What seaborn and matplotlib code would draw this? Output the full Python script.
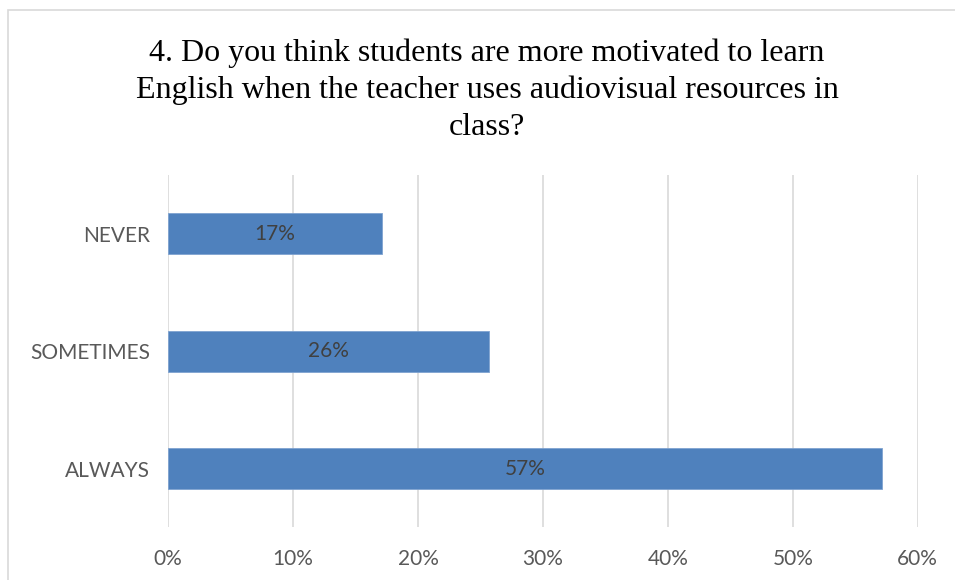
import matplotlib
matplotlib.use("Agg")
import matplotlib.pyplot as plt
import seaborn as sns
import pandas as pd
from matplotlib.patches import Rectangle

categories = ["NEVER", "SOMETIMES", "ALWAYS"]
values = [17.14, 25.71, 57.14]
xticks = [0, 10, 20, 30, 40, 50, 60]
title = ("4. Do you think students are more motivated to learn\n"
         "English when the teacher uses audiovisual resources in\n"
         "class?")

sns.set_theme(style="white")
plt.rcParams["font.family"] = ["Lato", "DejaVu Sans"]

df = pd.DataFrame({"category": categories, "value": values})

fig = plt.figure(figsize=(9.55, 5.8), dpi=100)
ax = fig.add_axes([0.176, 0.091, 0.785, 0.607])

sns.barplot(data=df, x="value", y="category", orient="h", color="#4F81BD",
            saturation=1, width=0.35, edgecolor="#7FA3D0", linewidth=0.6, ax=ax)

for bar, v in zip(ax.patches, values):
    ax.text(bar.get_x() + bar.get_width() / 2, bar.get_y() + bar.get_height() / 2,
            f"{round(v)}%", ha="center", va="center", fontsize=15, color="#404040")

ax.set_xlim(0, 60)
ax.set_ylim(2.5, -0.5)
ax.set_xticks(xticks)
ax.set_xticklabels([f"{t}%" for t in xticks])
ax.tick_params(axis="both", length=0, labelsize=15, labelcolor="#595959")
ax.tick_params(axis="x", pad=16)
ax.tick_params(axis="y", pad=13)
ax.set_xlabel("")
ax.set_ylabel("")
ax.grid(axis="x", color="#D9D9D9", linewidth=1.2)
ax.set_axisbelow(True)
for s in ax.spines.values():
    s.set_visible(False)

fig.text(0.51, 0.933, title, ha="center", va="top", fontsize=23,
         family=["Liberation Serif", "DejaVu Serif"], color="#000000",
         linespacing=1.33)

fig.patches.append(Rectangle((8 / 955, -0.05), 1.0, 1 - 10 / 580 + 0.05,
                             transform=fig.transFigure, fill=False,
                             edgecolor="#D9D9D9", linewidth=1.2))

fig.savefig("out.png", dpi=100)
